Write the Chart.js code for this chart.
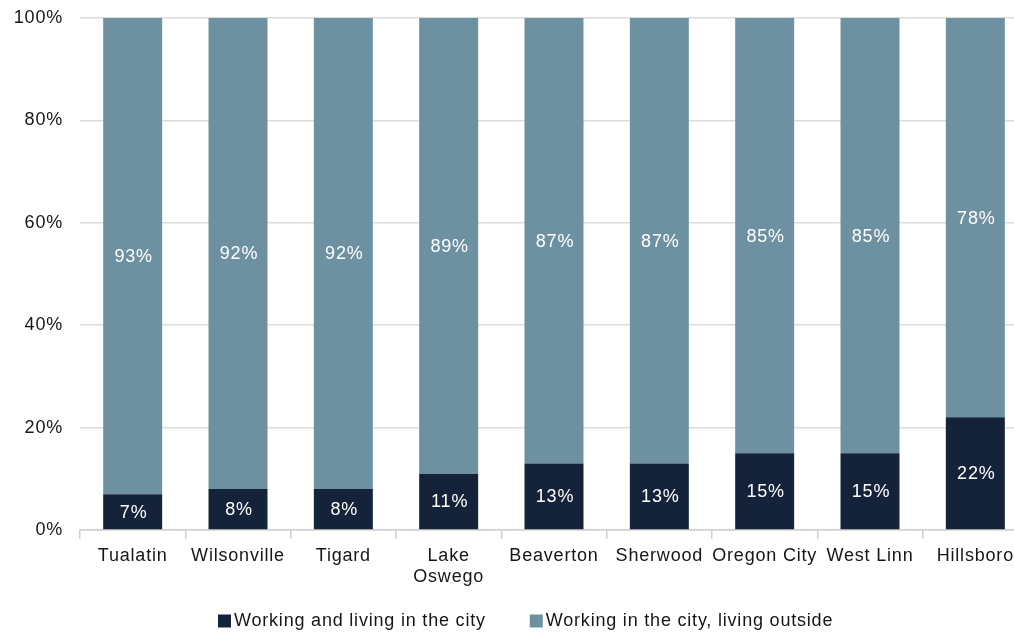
<!DOCTYPE html>
<html>
<head>
<meta charset="utf-8">
<script src="https://cdn.jsdelivr.net/npm/chart.js@4.4.1/dist/chart.umd.min.js"></script>
<style>
  html, body { margin: 0; padding: 0; background: #fff; overflow: hidden; }
  #wrap { width: 1014px; height: 632px; overflow: hidden; }
  canvas { display: block; }
</style>
</head>
<body>
<div id="wrap"><canvas id="chart" width="1030" height="632"></canvas></div>
<script>
// Commuting split by city (share of jobs in each city)
const cities = ['Tualatin', 'Wilsonville', 'Tigard', ['Lake', 'Oswego'], 'Beaverton', 'Sherwood', 'Oregon City', 'West Linn', 'Hillsboro'];
const livingInCity = [7, 8, 8, 11, 13, 13, 15, 15, 22];
const livingOutside = [93, 92, 92, 89, 87, 87, 85, 85, 78];
const yTicks = [0, 20, 40, 60, 80, 100];

const FONT = '"Liberation Sans", Arial, sans-serif';
const FONT_SIZE = 18;
const SPACING = '0.8px';
const DARK = '#14223a';
const LIGHT = '#6e91a2';
const TEXT = '#161616';

// Slightly open letter spacing for all canvas text
const textSpacing = {
  id: 'textSpacing',
  beforeDraw(chart) { chart.ctx.letterSpacing = SPACING; }
};

// Writes each segment's percentage in the middle of its bar segment
const segmentLabels = {
  id: 'segmentLabels',
  afterDatasetsDraw(chart) {
    const ctx = chart.ctx;
    ctx.save();
    ctx.letterSpacing = SPACING;
    ctx.fillStyle = '#ffffff';
    ctx.font = FONT_SIZE + 'px ' + FONT;
    ctx.textAlign = 'center';
    ctx.textBaseline = 'middle';
    chart.data.datasets.forEach((ds, di) => {
      const meta = chart.getDatasetMeta(di);
      meta.data.forEach((bar, i) => {
        const y = (bar.y + bar.base) / 2;
        ctx.fillText(ds.data[i] + '%', bar.x + 1, y + 1);
      });
    });
    ctx.restore();
  }
};

// Legend row under the axis, built from the dataset labels and colours
const bottomLegend = {
  id: 'bottomLegend',
  afterDraw(chart) {
    const ctx = chart.ctx;
    ctx.save();
    ctx.letterSpacing = SPACING;
    ctx.font = FONT_SIZE + 'px ' + FONT;
    ctx.textBaseline = 'middle';
    ctx.textAlign = 'left';
    let x = 218;
    const y = 621;
    chart.data.datasets.forEach(ds => {
      ctx.fillStyle = ds.backgroundColor;
      ctx.fillRect(x, y - 6.5, 13, 13);
      ctx.fillStyle = TEXT;
      ctx.fillText(ds.label, x + 16, y);
      x += 16 + ctx.measureText(ds.label).width + 44;
    });
    ctx.restore();
  }
};

new Chart(document.getElementById('chart'), {
  type: 'bar',
  data: {
    labels: cities,
    datasets: [
      { label: 'Working and living in the city', data: livingInCity, backgroundColor: DARK },
      { label: 'Working in the city, living outside', data: livingOutside, backgroundColor: LIGHT }
    ]
  },
  options: {
    responsive: false,
    animation: false,
    layout: { padding: { left: 0, right: 2, top: 18, bottom: 0 } },
    datasets: { bar: { categoryPercentage: 1, barPercentage: 0.56 } },
    scales: {
      x: {
        stacked: true,
        afterFit(scale) { scale.height = 102; scale.paddingLeft = 0; scale.paddingRight = 0; },
        grid: { display: true, offset: true, drawOnChartArea: false, tickLength: 9, color: '#d0d0d0', lineWidth: 1.5 },
        border: { display: true, color: '#d0d0d0', width: 1.5 },
        ticks: { color: TEXT, font: { family: FONT, size: FONT_SIZE }, padding: 6, maxRotation: 0, autoSkip: false }
      },
      y: {
        stacked: true,
        min: 0, max: 100,
        afterFit(scale) { scale.width = 80; scale.paddingTop = 0; scale.paddingBottom = 0; },
        afterBuildTicks(scale) { scale.ticks = yTicks.map(v => ({ value: v })); },
        grid: { color: '#dcdcdc', lineWidth: 1.5, drawTicks: false },
        border: { display: false },
        ticks: { color: TEXT, font: { family: FONT, size: FONT_SIZE }, padding: 17, callback: v => v + '%' }
      }
    },
    plugins: {
      legend: { display: false },
      tooltip: { enabled: false }
    }
  },
  plugins: [textSpacing, segmentLabels, bottomLegend]
});
</script>
</body>
</html>
